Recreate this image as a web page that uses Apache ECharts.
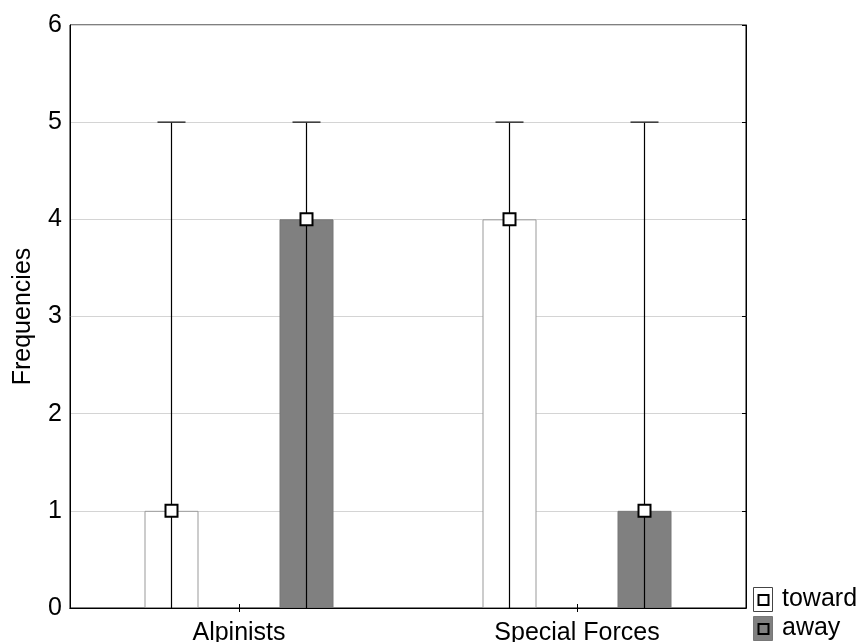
<!DOCTYPE html>
<html>
<head>
<meta charset="utf-8">
<script src="https://cdn.jsdelivr.net/npm/echarts@6/dist/echarts.min.js"></script>
<style>
html,body{margin:0;padding:0;background:#fff;}
#c{width:861px;height:642px;}
</style>
</head>
<body>
<div id="c"></div>
<script>
// ---- data ----
var categories = ['Alpinists', 'Special Forces'];
var seriesNames = ['toward', 'away'];
var towardValues = [1, 4];
var awayValues = [4, 1];
var towardLower = [0, 0];
var towardUpper = [5, 5];
var awayLower = [0, 0];
var awayUpper = [5, 5];
var yTicks = [0, 1, 2, 3, 4, 5, 6];

// ---- style ----
var FONT = '"Liberation Sans", Arial, sans-serif';
var FS = 25;
var BAR_W = 54;
var BAR_GAP = 81;
var OFFSET = (BAR_W + BAR_GAP) / 2;

function errData(vals, lo, hi) {
  return vals.map(function (v, i) { return [i, v, lo[i], hi[i]]; });
}

function makeRender(dir) {
  return function (params, api) {
    var i = api.value(0);
    var pv = api.coord([i, api.value(1)]);
    var pl = api.coord([i, api.value(2)]);
    var ph = api.coord([i, api.value(3)]);
    var x = pv[0] + dir * OFFSET;
    var m = 12;
    return {
      type: 'group',
      children: [
        { type: 'line', shape: { x1: x, y1: pl[1], x2: x, y2: ph[1] },
          style: { stroke: '#000', lineWidth: 1.2 } },
        { type: 'line', shape: { x1: x - 14, y1: ph[1], x2: x + 14, y2: ph[1] },
          style: { stroke: '#333', lineWidth: 1.5 } },
        { type: 'rect', shape: { x: x - m / 2, y: pv[1] - m / 2, width: m, height: m },
          style: { fill: '#fff', stroke: '#000', lineWidth: 2 } }
      ]
    };
  };
}

var chart = echarts.init(document.getElementById('c'));
chart.setOption({
  animation: false,
  backgroundColor: '#fff',
  grid: { left: 70, right: 115, top: 25, bottom: 34, show: true, borderColor: '#000', borderWidth: 1,
          containLabel: false, outerBoundsMode: 'none' },
  xAxis: [
    { type: 'category', data: categories, position: 'bottom',
      axisLine: { show: true, lineStyle: { color: '#000', width: 1 } },
      axisTick: { show: true, alignWithLabel: true, inside: true, length: 4, lineStyle: { color: '#000' } },
      axisLabel: { color: '#000', fontSize: FS, fontFamily: FONT, margin: 13 },
      splitLine: { show: false } },
    { type: 'category', data: categories, position: 'top',
      axisLine: { show: true, lineStyle: { color: '#000', width: 1 } },
      axisTick: { show: true, alignWithLabel: true, inside: true, length: 4, lineStyle: { color: '#000' } },
      axisLabel: { show: false }, splitLine: { show: false } }
  ],
  yAxis: [
    { type: 'value', min: yTicks[0], max: yTicks[yTicks.length - 1], interval: 1, position: 'left',
      name: 'Frequencies', nameLocation: 'middle', nameGap: 34, nameRotate: 90,
      nameTextStyle: { color: '#000', fontSize: FS, fontFamily: FONT },
      axisLine: { show: true, lineStyle: { color: '#000', width: 1 } },
      axisTick: { show: false },
      axisLabel: { color: '#000', fontSize: FS, fontFamily: FONT, margin: 8 },
      splitLine: { show: true, lineStyle: { color: '#d4d4d4', width: 1 } } },
    { type: 'value', min: yTicks[0], max: yTicks[yTicks.length - 1], interval: 1, position: 'right',
      axisLine: { show: true, lineStyle: { color: '#000', width: 1 } },
      axisTick: { show: true, inside: true, length: 4, lineStyle: { color: '#000' } },
      axisLabel: { show: false }, splitLine: { show: false } }
  ],
  series: [
    { name: seriesNames[0], type: 'bar', data: towardValues, barWidth: BAR_W, barGap: (BAR_GAP / BAR_W * 100) + '%',
      itemStyle: { color: '#fff', borderColor: '#999', borderWidth: 1 }, z: 2 },
    { name: seriesNames[1], type: 'bar', data: awayValues, barWidth: BAR_W,
      itemStyle: { color: '#808080', borderColor: '#777', borderWidth: 1 }, z: 2 },
    { type: 'custom', data: errData(towardValues, towardLower, towardUpper), renderItem: makeRender(-1), z: 5,
      encode: { x: 0, y: 1 } },
    { type: 'custom', data: errData(awayValues, awayLower, awayUpper), renderItem: makeRender(1), z: 5,
      encode: { x: 0, y: 1 } }
  ],
  graphic: [
    { type: 'rect', left: 753, top: 587, shape: { width: 19, height: 24 },
      style: { fill: '#fff', stroke: '#444', lineWidth: 1 } },
    { type: 'rect', left: 757.5, top: 594, shape: { width: 10, height: 10 },
      style: { fill: '#fff', stroke: '#000', lineWidth: 2 } },
    { type: 'text', left: 782, top: 587, style: { text: seriesNames[0], fill: '#000', font: FS + 'px ' + FONT } },
    { type: 'rect', left: 753, top: 616, shape: { width: 19, height: 24 },
      style: { fill: '#808080', stroke: '#777', lineWidth: 1 } },
    { type: 'rect', left: 757.5, top: 623, shape: { width: 10, height: 10 },
      style: { fill: '#808080', stroke: '#000', lineWidth: 2 } },
    { type: 'text', left: 782, top: 616, style: { text: seriesNames[1], fill: '#000', font: FS + 'px ' + FONT } }
  ]
});
</script>
</body>
</html>
